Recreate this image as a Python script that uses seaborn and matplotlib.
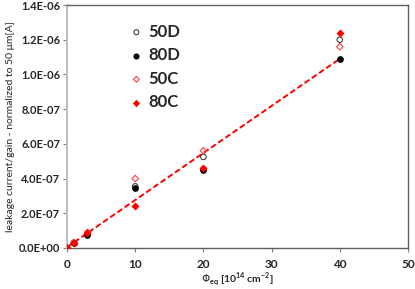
import numpy as np
import pandas as pd
import matplotlib
matplotlib.use("Agg")
import matplotlib.pyplot as plt
import seaborn as sns

# fluence points [1e14 cm^-2]
fluence = [0, 1, 3, 10, 20, 40]

# leakage current / gain, normalized to 50 um [A]
i_50D = [0.0, 3.0e-8, 8.0e-8, 3.55e-7, 5.25e-7, 1.20e-6]
i_80D = [0.0, 2.8e-8, 7.5e-8, 3.45e-7, 4.50e-7, 1.09e-6]
i_50C = [0.0, 3.2e-8, 9.0e-8, 4.00e-7, 5.60e-7, 1.16e-6]
i_80C = [0.0, 3.0e-8, 8.5e-8, 2.40e-7, 4.60e-7, 1.24e-6]

# linear fit endpoints
fit_x = [0, 40]
fit_y = [5.0e-9, 1.09e-6]

y_ticks = [0, 2e-7, 4e-7, 6e-7, 8e-7, 1e-6, 1.2e-6, 1.4e-6]
y_ticklabels = ["0.0E+00", "2.0E-07", "4.0E-07", "6.0E-07", "8.0E-07",
                "1.0E-06", "1.2E-06", "1.4E-06"]
x_ticks = [0, 10, 20, 30, 40, 50]

sns.set_style("white")
plt.rcParams['font.family'] = ['Lato', 'DejaVu Sans']

fig = plt.figure(figsize=(4.15, 2.89), dpi=100)
ax = fig.add_axes([67/415, 1 - 248/289, 341/415, 243/289])

sns.lineplot(x=fit_x, y=fit_y, ax=ax, color="#ff0000", linestyle=(0, (3, 1.5)),
             linewidth=1.4, zorder=1)

series = [
    ("50D", i_50D, "o", "none", "#404040"),
    ("80D", i_80D, "o", "black", "black"),
    ("50C", i_50C, "D", "none", "#ff4040"),
    ("80C", i_80C, "D", "#ff0000", "#ff0000"),
]
for name, vals, mk, fc, ec in series:
    df = pd.DataFrame({"x": fluence, "y": vals})
    sns.scatterplot(data=df, x="x", y="y", ax=ax, marker=mk, s=16 if mk == "o" else 11,
                    facecolor=fc, edgecolor=ec, linewidth=0.8, label=name, zorder=3)

ax.set_xlim(0, 50)
ax.set_ylim(0, 1.4e-6)
ax.set_xticks(x_ticks)
ax.set_xticklabels([str(t) for t in x_ticks], fontweight="bold", fontsize=8.5)
ax.set_yticks(y_ticks)
ax.set_yticklabels(y_ticklabels, fontweight="bold", fontsize=8)
ax.tick_params(axis="both", direction="out", length=3, width=0.8, color="#808080",
               bottom=True, left=True, pad=2)
ax.tick_params(axis="x", pad=5)

for s in ["top", "right", "bottom"]:
    ax.spines[s].set_color("#606060")
    ax.spines[s].set_linewidth(1.0)
ax.spines["left"].set_color("#c0c0c0")
ax.spines["left"].set_linewidth(1.5)

ax.set_xlabel(r"$\Phi_{\mathregular{eq}}$ [10$^{\mathregular{14}}$ cm$^{\mathregular{-2}}$]",
              fontsize=7.5, labelpad=0, fontweight="bold")
ax.set_ylabel("leakage current/gain - normalized to 50 \u03bcm[A]", fontsize=7.5, labelpad=3)

leg = ax.legend(loc="upper left", bbox_to_anchor=(0.135, 0.985), frameon=False,
                prop={"weight": "bold", "size": 12}, handletextpad=0.2,
                labelspacing=0.45, handlelength=1.0, markerscale=0.9)

fig.savefig("out.png", dpi=100)
